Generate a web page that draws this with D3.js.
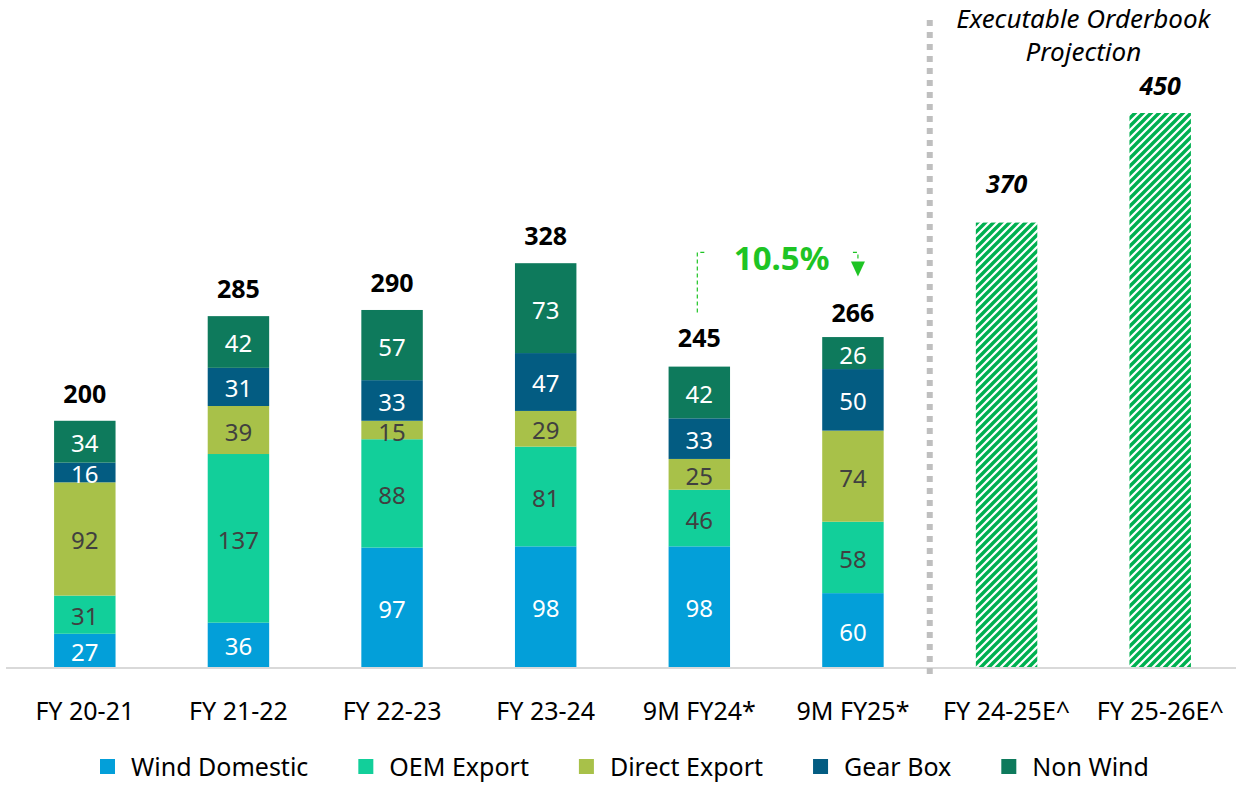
<!DOCTYPE html>
<html>
<head>
<meta charset="utf-8">
<script src="https://cdn.jsdelivr.net/npm/d3@7"></script>
<style>
  body { margin: 0; background: #fff; }
  text { font-family: "Noto Sans", sans-serif; }
</style>
</head>
<body>
<script>
const width = 1243
const height = 792

// data
const categories = ['FY 20-21', 'FY 21-22', 'FY 22-23', 'FY 23-24', '9M FY24*', '9M FY25*', 'FY 24-25E^', 'FY 25-26E^']
const seriesNames = ['Wind Domestic', 'OEM Export', 'Direct Export', 'Gear Box', 'Non Wind']
const windDomestic = [27, 36, 97, 98, 98, 60]
const oemExport = [31, 137, 88, 81, 46, 58]
const directExport = [92, 39, 15, 29, 25, 74]
const gearBox = [16, 31, 33, 47, 33, 50]
const nonWind = [34, 42, 57, 73, 42, 26]
const totals = [200, 285, 290, 328, 245, 266]
const projLabels = [370, 450]
const projBars = [361, 450]
const growthLabel = '10.5%'

const colors = ['#039fd9', '#12cf9a', '#a8c149', '#035c82', '#0e7a5c']
const labelColors = ['#fff', '#404040', '#404040', '#fff', '#fff']
const hatchGreen = '#00b050'

const svg = d3.select('body')
        .append('svg')
        .attr('width', width)
        .attr('height', height)

// hatch pattern for projection bars
const defs = svg.append('defs')
const pat = defs.append('pattern')
        .attr('id', 'hatch')
        .attr('patternUnits', 'userSpaceOnUse')
        .attr('width', 8)
        .attr('height', 8)
pat.append('path')
        .attr('d', 'M-2,2 L2,-2 M0,8 L8,0 M6,10 L10,6')
        .attr('stroke', hatchGreen)
        .attr('stroke-width', 3.4)

// scales
const x = d3.scaleBand()
        .domain(categories)
        .range([8, 1237])
        .paddingInner(0.6)
        .paddingOuter(0.3)

const y = d3.scaleLinear()
        .domain([0, 450])
        .range([667, 113])

// stacked data
const rows = categories.slice(0, 6).map((c, i) => ({
    cat: c,
    'Wind Domestic': windDomestic[i],
    'OEM Export': oemExport[i],
    'Direct Export': directExport[i],
    'Gear Box': gearBox[i],
    'Non Wind': nonWind[i]
}))
const stacked = d3.stack().keys(seriesNames)(rows)

const layers = svg.selectAll('.layer')
        .data(stacked)
        .join('g')
        .attr('class', 'layer')

layers.selectAll('rect')
        .data(d => d.map(v => ({ v, key: d.key })))
        .join('rect')
        .attr('x', d => x(d.v.data.cat))
        .attr('y', d => y(d.v[1]))
        .attr('width', x.bandwidth())
        .attr('height', d => y(d.v[0]) - y(d.v[1]))
        .attr('fill', d => colors[seriesNames.indexOf(d.key)])

layers.selectAll('.seg-label')
        .data(d => d.map(v => ({ v, key: d.key })))
        .join('text')
        .attr('class', 'seg-label')
        .attr('x', d => x(d.v.data.cat) + x.bandwidth() / 2)
        .attr('y', d => (y(d.v[0]) + y(d.v[1])) / 2 + 1)
        .attr('text-anchor', 'middle')
        .attr('dominant-baseline', 'central')
        .attr('font-size', '24px')
        .attr('fill', d => labelColors[seriesNames.indexOf(d.key)])
        .text(d => d.v[1] - d.v[0])

// totals
svg.selectAll('.total')
        .data(totals)
        .join('text')
        .attr('class', 'total')
        .attr('x', (d, i) => x(categories[i]) + x.bandwidth() / 2)
        .attr('y', d => y(d) - 18)
        .attr('text-anchor', 'middle')
        .attr('font-size', '25px')
        .attr('font-weight', 'bold')
        .attr('fill', '#000')
        .text(d => d)

// projection bars
svg.selectAll('.proj')
        .data(projBars)
        .join('rect')
        .attr('class', 'proj')
        .attr('x', (d, i) => x(categories[6 + i]))
        .attr('y', d => y(d))
        .attr('width', x.bandwidth())
        .attr('height', d => y(0) - y(d))
        .attr('fill', 'url(#hatch)')

svg.selectAll('.proj-label')
        .data(projLabels)
        .join('text')
        .attr('class', 'proj-label')
        .attr('x', (d, i) => x(categories[6 + i]) + x.bandwidth() / 2)
        .attr('y', d => y(d) - 18)
        .attr('text-anchor', 'middle')
        .attr('font-size', '25px')
        .attr('font-weight', 'bold')
        .attr('font-style', 'italic')
        .text(d => d)

// x axis
const xAxis = d3.axisBottom(x).tickSize(0)
const gx = svg.append('g')
        .attr('transform', 'translate(0,' + y(0) + ')')
        .call(xAxis)
gx.select('.domain')
        .attr('d', 'M6,1 H1236')
        .attr('stroke', '#d9d9d9')
        .attr('stroke-width', 2)
gx.selectAll('.tick text')
        .attr('font-size', '25px')
        .attr('font-family', '"Noto Sans", sans-serif')
        .attr('fill', '#000')
        .attr('dy', '0')
        .attr('y', 53)

// separator between actuals and projection
const sepX = (x(categories[5]) + x.bandwidth() + x(categories[6])) / 2
svg.append('line')
        .attr('x1', sepX)
        .attr('x2', sepX)
        .attr('y1', 20)
        .attr('y2', 674)
        .attr('stroke', '#bfbfbf')
        .attr('stroke-width', 6)
        .attr('stroke-dasharray', '6,6')

const noteX = (x(categories[6]) + x(categories[7]) + x.bandwidth()) / 2
svg.append('text')
        .attr('x', noteX)
        .attr('y', 28)
        .attr('text-anchor', 'middle')
        .attr('font-size', '26px')
        .attr('font-style', 'italic')
        .text('Executable Orderbook')
svg.append('text')
        .attr('x', noteX)
        .attr('y', 61)
        .attr('text-anchor', 'middle')
        .attr('font-size', '26px')
        .attr('font-style', 'italic')
        .text('Projection')

// growth annotation
const growthGreen = '#1ec424'
const leftX = x(categories[4]) + x.bandwidth() / 2 - 2
const rightX = x(categories[5]) + x.bandwidth() / 2 + 5
const topY = y(totals[4]) - 113
svg.append('path')
        .attr('d', `M${leftX},${y(totals[4]) - 53} V${topY} H${leftX + 7}`)
        .attr('fill', 'none')
        .attr('stroke', growthGreen)
        .attr('stroke-width', 1.2)
        .attr('stroke-dasharray', '4,3')
svg.append('path')
        .attr('d', `M${rightX - 5},${topY} H${rightX} V${topY + 9}`)
        .attr('fill', 'none')
        .attr('stroke', growthGreen)
        .attr('stroke-width', 1.2)
        .attr('stroke-dasharray', '4,3')
svg.append('path')
        .attr('d', `M${rightX - 7},${topY + 9} L${rightX + 7},${topY + 9} L${rightX},${topY + 24} Z`)
        .attr('fill', growthGreen)
svg.append('text')
        .attr('x', (leftX + rightX) / 2 + 4)
        .attr('y', topY + 18)
        .attr('text-anchor', 'middle')
        .attr('font-size', '33px')
        .attr('font-weight', 'bold')
        .attr('fill', growthGreen)
        .text(growthLabel)

// legend
const legend = svg.append('g').attr('transform', 'translate(100, 759)')
let lx = 0
seriesNames.forEach((name, i) => {
    const g = legend.append('g').attr('transform', `translate(${lx},0)`)
    g.append('rect')
        .attr('width', 15)
        .attr('height', 15)
        .attr('fill', colors[i])
    const t = g.append('text')
        .attr('x', 31)
        .attr('y', 17)
        .attr('font-size', '25px')
        .attr('fill', '#000')
        .text(name)
    lx += 31 + t.node().getComputedTextLength() + 50
})
</script>
</body>
</html>
